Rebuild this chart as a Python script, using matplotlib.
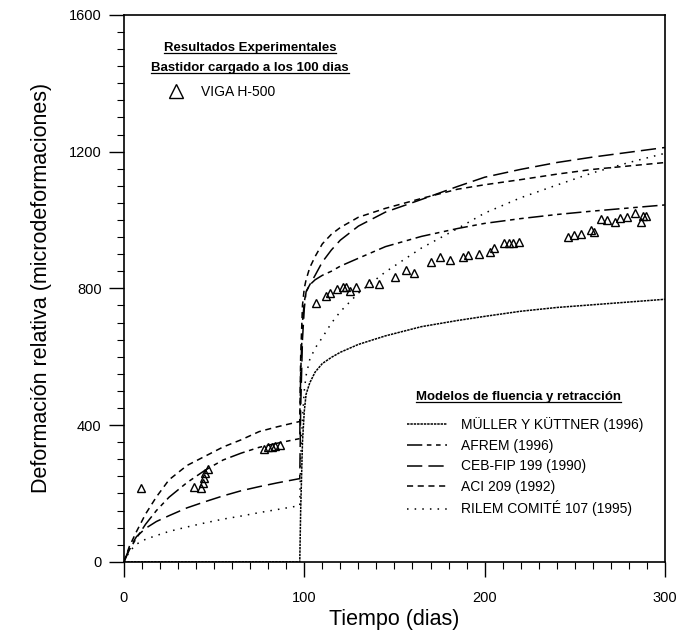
import numpy as np
import matplotlib
matplotlib.use('Agg')
import matplotlib.pyplot as plt
from matplotlib.lines import Line2D
from matplotlib.ticker import MultipleLocator

plt.rcParams['font.family'] = ['Liberation Sans', 'DejaVu Sans']

# tiempos (dias): fase 1 (antes de la carga) y fase 2 (despues de la carga)
t1 = [0, 3, 7, 12, 18, 25, 35, 45, 55, 65, 75, 85, 97]
t2 = [97.5, 98, 99, 100, 101, 103, 106, 110, 115, 120, 130, 145, 165, 185, 200, 220, 240, 260, 280, 300]

# modelos de fluencia y retraccion (microdeformaciones)
muller_1 = [0, 0, 0, 0, 0, 0, 0, 0, 0, 0, 0, 0, 0]
muller_2 = [0, 150, 350, 440, 490, 523, 555, 580, 598, 613, 636, 661, 688, 706, 718, 733, 744, 752, 760, 768]
afrem_1 = [0, 35, 70, 110, 150, 189, 232, 268, 298, 318, 335, 347, 360]
afrem_2 = [360, 550, 700, 760, 790, 810, 825, 838, 850, 865, 888, 922, 952, 975, 990, 1004, 1016, 1026, 1035, 1044]
ceb_1 = [0, 40, 74, 98, 118, 135, 158, 176, 193, 208, 220, 231, 243]
ceb_2 = [243, 450, 650, 740, 790, 810, 838, 877, 912, 941, 982, 1023, 1060, 1098, 1125, 1148, 1168, 1184, 1198, 1212]
aci_1 = [0, 45, 89, 140, 190, 240, 282, 309, 336, 357, 381, 395, 410]
aci_2 = [410, 600, 750, 800, 825, 860, 893, 930, 958, 978, 1008, 1034, 1063, 1090, 1103, 1118, 1134, 1148, 1158, 1168]
rilem_1 = [0, 30, 52, 66, 77, 89, 102, 114, 125, 134, 144, 153, 164]
rilem_2 = [164, 300, 420, 500, 545, 591, 625, 656, 698, 732, 786, 848, 918, 975, 1020, 1065, 1102, 1138, 1168, 1195]

# resultados experimentales VIGA H-500
viga_t = [9.4, 39, 43, 44, 44.5, 45.2, 46.5, 77.8, 80, 82, 83.8, 86.3,
          106.6, 112.3, 114.5, 118.2, 121.5, 123.4, 125.2, 128.5, 135.9, 141.5, 150.3, 156.4, 160.8,
          170, 175.5, 180.7, 188, 190.7, 196.8, 202.8, 205, 211, 213.4, 215.6, 218.8,
          246, 249.7, 253.4, 258.9, 260.7, 264.8, 267.6, 272.3, 275, 279.2, 283.6, 286.6, 288, 289.5]
viga_d = [215, 220, 215, 230, 245, 260, 271, 330, 335, 337, 339, 342,
          756, 778, 787, 799, 803, 805, 793, 803, 815, 813, 834, 854, 844,
          878, 891, 883, 893, 898, 901, 907, 917, 934, 932, 932, 937,
          951, 956, 959, 971, 966, 1002, 1000, 995, 1005, 1010, 1020, 995, 1012, 1012]

modelos = [
    ('MÜLLER Y KÜTTNER (1996)', muller_1, muller_2, (0, (1.6, 0.6))),
    ('AFREM (1996)', afrem_1, afrem_2, (0, (10, 3, 3, 3, 3, 3))),
    ('CEB-FIP 199 (1990)', ceb_1, ceb_2, (0, (10, 4))),
    ('ACI 209 (1992)', aci_1, aci_2, (0, (4, 3))),
    ('RILEM COMITÉ 107 (1995)', rilem_1, rilem_2, (0, (1, 4))),
]

fig = plt.figure(figsize=(6.81, 6.32), dpi=100)
ax = fig.add_axes([0.182, 0.111, 0.7944, 0.8655])

handles = []
for nombre, y1, y2, ls in modelos:
    t = t1 + t2
    y = y1 + y2
    h, = ax.plot(t, y, color='black', linestyle=ls, linewidth=1.1, label=nombre)
    handles.append(h)

pts, = ax.plot(viga_t, viga_d, linestyle='none', marker='^', markersize=6,
               markerfacecolor='none', markeredgecolor='black', markeredgewidth=1.0,
               label='VIGA H-500')

ax.set_xlim(0, 300)
ax.set_ylim(0, 1600)
ax.xaxis.set_major_locator(MultipleLocator(100))
ax.xaxis.set_minor_locator(MultipleLocator(10))
ax.yaxis.set_major_locator(MultipleLocator(400))
ax.yaxis.set_minor_locator(MultipleLocator(50))
ax.tick_params(axis='both', which='major', direction='out', length=11, width=1, labelsize=10.5)
ax.tick_params(axis='both', which='minor', direction='out', length=5, width=0.8)
ax.tick_params(axis='x', which='major', pad=10)
ax.tick_params(axis='y', which='major', pad=5)
for s in ax.spines.values():
    s.set_linewidth(1.2)

ax.set_xlabel('Tiempo (dias)', fontsize=15.5, labelpad=3)
ax.set_ylabel('Deformación relativa (microdeformaciones)', fontsize=15.5, labelpad=12)

# leyenda de resultados experimentales
t_a = ax.text(0.233, 0.940, 'Resultados Experimentales', transform=ax.transAxes,
              ha='center', va='center', fontsize=9.5, fontweight='bold')
t_b = ax.text(0.233, 0.902, 'Bastidor cargado a los 100 dias', transform=ax.transAxes,
              ha='center', va='center', fontsize=9.5, fontweight='bold')
leg1 = ax.legend(handles=[pts], loc='upper left', bbox_to_anchor=(0.053, 0.8955),
                 frameon=False, fontsize=10, handlelength=1.5, handletextpad=1.1,
                 markerscale=1.6)
ax.add_artist(leg1)

# leyenda de modelos
t_c = ax.text(0.73, 0.302, 'Modelos de fluencia y retracción', transform=ax.transAxes,
              ha='center', va='center', fontsize=9.5, fontweight='bold')
leg2 = ax.legend(handles=handles, loc='upper left', bbox_to_anchor=(0.5, 0.287),
                 frameon=False, fontsize=10, handlelength=2.9, handletextpad=1.0,
                 labelspacing=0.47)

# subrayados
fig.canvas.draw()
r = fig.canvas.get_renderer()
for t in [t_a, t_b, t_c]:
    bb = t.get_window_extent(r)
    x0, x1 = bb.x0 / fig.bbox.width, bb.x1 / fig.bbox.width
    yy = (bb.y0 + 1) / fig.bbox.height
    fig.add_artist(Line2D([x0, x1], [yy, yy], color='black', linewidth=0.9))

plt.savefig('out.png', dpi=100)
